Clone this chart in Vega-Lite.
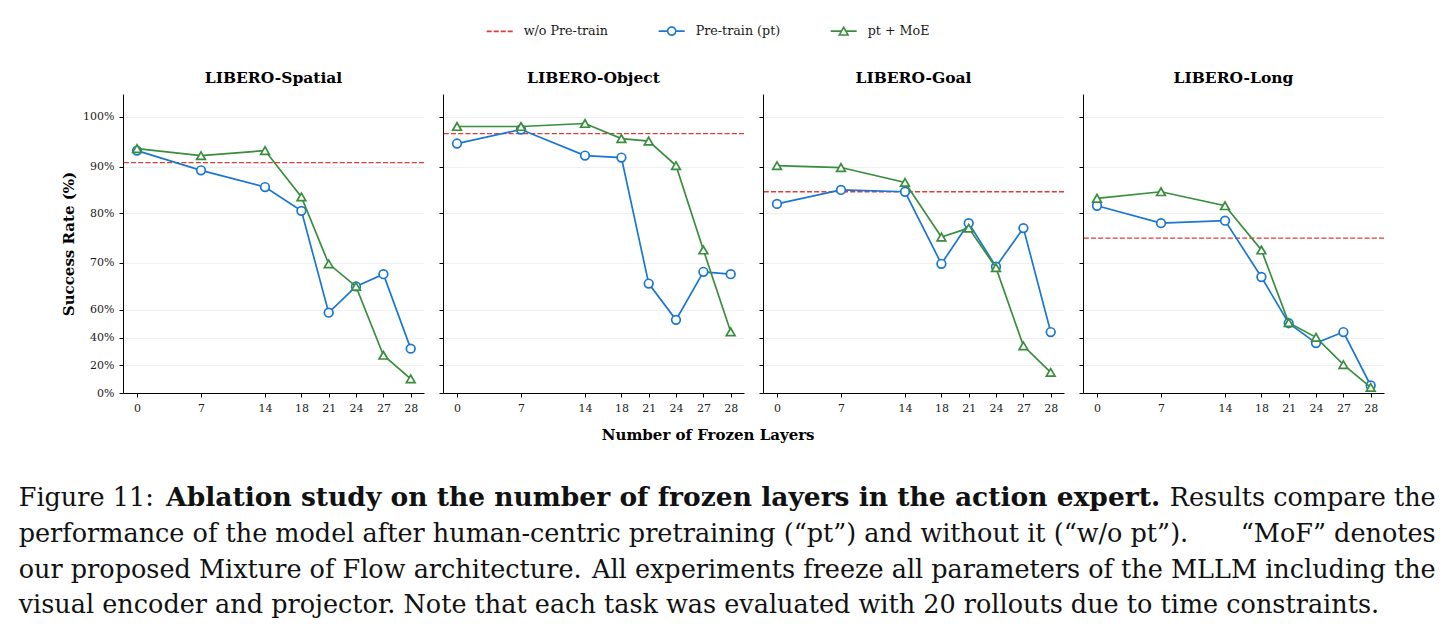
{
  "$schema": "https://vega.github.io/schema/vega-lite/v6.json",
  "background": "white",
  "padding": {"top": 16, "left": 18, "right": 9, "bottom": 8},
  "datasets": {
    "results": [
      {"task": "LIBERO-Spatial", "series": "w/o Pre-train", "rate": 90.8},
      {"task": "LIBERO-Spatial", "series": "Pre-train (pt)", "frozen": 0, "rate": 93.2},
      {"task": "LIBERO-Spatial", "series": "Pre-train (pt)", "frozen": 7, "rate": 89.2},
      {"task": "LIBERO-Spatial", "series": "Pre-train (pt)", "frozen": 14, "rate": 85.6},
      {"task": "LIBERO-Spatial", "series": "Pre-train (pt)", "frozen": 18, "rate": 80.5},
      {"task": "LIBERO-Spatial", "series": "Pre-train (pt)", "frozen": 21, "rate": 58},
      {"task": "LIBERO-Spatial", "series": "Pre-train (pt)", "frozen": 24, "rate": 65},
      {"task": "LIBERO-Spatial", "series": "Pre-train (pt)", "frozen": 27, "rate": 67.6},
      {"task": "LIBERO-Spatial", "series": "Pre-train (pt)", "frozen": 28, "rate": 32},
      {"task": "LIBERO-Spatial", "series": "pt + MoE", "frozen": 0, "rate": 93.6},
      {"task": "LIBERO-Spatial", "series": "pt + MoE", "frozen": 7, "rate": 92.2},
      {"task": "LIBERO-Spatial", "series": "pt + MoE", "frozen": 14, "rate": 93.2},
      {"task": "LIBERO-Spatial", "series": "pt + MoE", "frozen": 18, "rate": 83.5},
      {"task": "LIBERO-Spatial", "series": "pt + MoE", "frozen": 21, "rate": 69.8},
      {"task": "LIBERO-Spatial", "series": "pt + MoE", "frozen": 24, "rate": 65},
      {"task": "LIBERO-Spatial", "series": "pt + MoE", "frozen": 27, "rate": 27.2},
      {"task": "LIBERO-Spatial", "series": "pt + MoE", "frozen": 28, "rate": 10.2},
      {"task": "LIBERO-Object", "series": "w/o Pre-train", "rate": 96.6},
      {"task": "LIBERO-Object", "series": "Pre-train (pt)", "frozen": 0, "rate": 94.6},
      {"task": "LIBERO-Object", "series": "Pre-train (pt)", "frozen": 7, "rate": 97.4},
      {"task": "LIBERO-Object", "series": "Pre-train (pt)", "frozen": 14, "rate": 92.2},
      {"task": "LIBERO-Object", "series": "Pre-train (pt)", "frozen": 18, "rate": 91.8},
      {"task": "LIBERO-Object", "series": "Pre-train (pt)", "frozen": 21, "rate": 65.6},
      {"task": "LIBERO-Object", "series": "Pre-train (pt)", "frozen": 24, "rate": 52.8},
      {"task": "LIBERO-Object", "series": "Pre-train (pt)", "frozen": 27, "rate": 68.1},
      {"task": "LIBERO-Object", "series": "Pre-train (pt)", "frozen": 28, "rate": 67.6},
      {"task": "LIBERO-Object", "series": "pt + MoE", "frozen": 0, "rate": 98},
      {"task": "LIBERO-Object", "series": "pt + MoE", "frozen": 7, "rate": 98},
      {"task": "LIBERO-Object", "series": "pt + MoE", "frozen": 14, "rate": 98.6},
      {"task": "LIBERO-Object", "series": "pt + MoE", "frozen": 18, "rate": 95.6},
      {"task": "LIBERO-Object", "series": "pt + MoE", "frozen": 21, "rate": 95.1},
      {"task": "LIBERO-Object", "series": "pt + MoE", "frozen": 24, "rate": 90.2},
      {"task": "LIBERO-Object", "series": "pt + MoE", "frozen": 27, "rate": 72.6},
      {"task": "LIBERO-Object", "series": "pt + MoE", "frozen": 28, "rate": 44.2},
      {"task": "LIBERO-Goal", "series": "w/o Pre-train", "rate": 84.6},
      {"task": "LIBERO-Goal", "series": "Pre-train (pt)", "frozen": 0, "rate": 82},
      {"task": "LIBERO-Goal", "series": "Pre-train (pt)", "frozen": 7, "rate": 85},
      {"task": "LIBERO-Goal", "series": "Pre-train (pt)", "frozen": 14, "rate": 84.6},
      {"task": "LIBERO-Goal", "series": "Pre-train (pt)", "frozen": 18, "rate": 69.8},
      {"task": "LIBERO-Goal", "series": "Pre-train (pt)", "frozen": 21, "rate": 78},
      {"task": "LIBERO-Goal", "series": "Pre-train (pt)", "frozen": 24, "rate": 69.2},
      {"task": "LIBERO-Goal", "series": "Pre-train (pt)", "frozen": 27, "rate": 77},
      {"task": "LIBERO-Goal", "series": "Pre-train (pt)", "frozen": 28, "rate": 44},
      {"task": "LIBERO-Goal", "series": "pt + MoE", "frozen": 0, "rate": 90.2},
      {"task": "LIBERO-Goal", "series": "pt + MoE", "frozen": 7, "rate": 89.8},
      {"task": "LIBERO-Goal", "series": "pt + MoE", "frozen": 14, "rate": 86.6},
      {"task": "LIBERO-Goal", "series": "pt + MoE", "frozen": 18, "rate": 75.2},
      {"task": "LIBERO-Goal", "series": "pt + MoE", "frozen": 21, "rate": 77},
      {"task": "LIBERO-Goal", "series": "pt + MoE", "frozen": 24, "rate": 69},
      {"task": "LIBERO-Goal", "series": "pt + MoE", "frozen": 27, "rate": 34},
      {"task": "LIBERO-Goal", "series": "pt + MoE", "frozen": 28, "rate": 14.8},
      {"task": "LIBERO-Long", "series": "w/o Pre-train", "rate": 75},
      {"task": "LIBERO-Long", "series": "Pre-train (pt)", "frozen": 0, "rate": 81.6},
      {"task": "LIBERO-Long", "series": "Pre-train (pt)", "frozen": 7, "rate": 78},
      {"task": "LIBERO-Long", "series": "Pre-train (pt)", "frozen": 14, "rate": 78.5},
      {"task": "LIBERO-Long", "series": "Pre-train (pt)", "frozen": 18, "rate": 67},
      {"task": "LIBERO-Long", "series": "Pre-train (pt)", "frozen": 21, "rate": 50.4},
      {"task": "LIBERO-Long", "series": "Pre-train (pt)", "frozen": 24, "rate": 36},
      {"task": "LIBERO-Long", "series": "Pre-train (pt)", "frozen": 27, "rate": 44},
      {"task": "LIBERO-Long", "series": "Pre-train (pt)", "frozen": 28, "rate": 5.4},
      {"task": "LIBERO-Long", "series": "pt + MoE", "frozen": 0, "rate": 83.2},
      {"task": "LIBERO-Long", "series": "pt + MoE", "frozen": 7, "rate": 84.6},
      {"task": "LIBERO-Long", "series": "pt + MoE", "frozen": 14, "rate": 81.6},
      {"task": "LIBERO-Long", "series": "pt + MoE", "frozen": 18, "rate": 72.6},
      {"task": "LIBERO-Long", "series": "pt + MoE", "frozen": 21, "rate": 50.8},
      {"task": "LIBERO-Long", "series": "pt + MoE", "frozen": 24, "rate": 40.2},
      {"task": "LIBERO-Long", "series": "pt + MoE", "frozen": 27, "rate": 20.4},
      {"task": "LIBERO-Long", "series": "pt + MoE", "frozen": 28, "rate": 4}
    ],
    "caption": [
      {"line": 1, "part": "start", "text": "Figure 11:"},
      {"line": 1, "part": "emph", "text": "Ablation study on the number of frozen layers in the action expert."},
      {"line": 1, "part": "end", "text": "Results compare the"},
      {"line": 2, "part": "start", "text": "performance of the model after human-centric pretraining (“pt”) and without it (“w/o pt”)."},
      {"line": 2, "part": "end", "text": "“MoF” denotes"},
      {"line": 3, "part": "start", "text": "our proposed Mixture of Flow architecture."},
      {"line": 3, "part": "end", "text": "All experiments freeze all parameters of the MLLM including the"},
      {"line": 4, "part": "start", "text": "visual encoder and projector. Note that each task was evaluated with 20 rollouts due to time constraints."}
    ]
  },
  "vconcat": [
    {
      "bounds": "flush",
      "spacing": 19,
      "resolve": {"scale": {"color": "shared"}, "legend": {"color": "shared"}},
      "hconcat": [
        {
          "width": 301, "height": 299,
          "title": "LIBERO-Spatial",
          "data": {"name": "results"},
          "transform": [{"filter": "datum.task === 'LIBERO-Spatial'"}],
          "encoding": {
            "y": {"field": "rate", "type": "quantitative",
              "scale": {"domain": [0, 20, 40, 60, 70, 80, 90, 100, 104.6], "range": [299, 271.2, 243.6, 215.9, 168.9, 119.2, 72.6, 22.5, 0], "nice": false, "zero": false},
              "axis": {"values": [0, 20, 40, 60, 70, 80, 90, 100], "labelExpr": "datum.value + '%'", "grid": true, "title": "Success Rate (%)", "tickSize": 4, "labelPadding": 5, "titlePadding": 6}},
            "color": {"field": "series", "type": "nominal",
              "scale": {"domain": ["w/o Pre-train", "Pre-train (pt)", "pt + MoE"], "range": ["#e53935", "#1976d2", "#388e3c"]},
              "legend": {
                "title": null, "orient": "none", "legendX": 362.7, "legendY": -77.3, "direction": "horizontal",
                "labelFont": "DejaVu Serif", "labelFontSize": 12.7, "labelColor": "#1a1a1a",
                "labelOffset": 10, "columnPadding": 46, "padding": 0, "symbolSize": 676, "symbolStrokeWidth": 1.6,
                "encode": {"symbols": {"update": {
                  "shape": {"signal": "datum.value === 'w/o Pre-train' ? 'M-1,0H-0.62M-0.46,0H-0.08M0.08,0H0.46M0.62,0H1' : (datum.value === 'Pre-train (pt)' ? 'M-1,0H-0.31M0.31,0H1M0.31,0A0.31,0.31,0,1,1,-0.31,0A0.31,0.31,0,1,1,0.31,0' : 'M-1,0H-0.17M0.17,0H1M0,-0.3L-0.34,0.3L0.34,0.3Z')"},
                  "fill": {"value": "transparent"},
                  "stroke": {"signal": "datum.value === 'w/o Pre-train' ? '#e53935' : (datum.value === 'Pre-train (pt)' ? '#1976d2' : '#388e3c')"},
                  "strokeWidth": {"value": 1.6},
                  "strokeDash": {"value": [1, 0]},
                  "opacity": {"value": 1}
                }}}
              }}
          },
          "layer": [
            {"transform": [{"filter": "datum.series === 'w/o Pre-train'"}], "mark": {"type": "rule", "strokeDash": [5, 2.2], "strokeWidth": 1.3}, "encoding": {}},
            {"transform": [{"filter": "datum.series === 'Pre-train (pt)'"}], "mark": {"type": "line", "strokeWidth": 1.7},
              "encoding": {"x": {"field": "frozen", "type": "quantitative", "scale": {"domain": [-1.54, 0, 7, 14, 18, 21, 24, 27, 28, 29.49], "range": [0, 14, 78, 142, 178.4, 205.7, 233, 260.4, 287.7, 301], "nice": false, "zero": false}, "axis": {"values": [0, 7, 14, 18, 21, 24, 27, 28], "format": "d", "grid": false, "title": null, "tickSize": 4, "labelPadding": 5}}}},
            {"transform": [{"filter": "datum.series === 'Pre-train (pt)'"}], "mark": {"type": "point", "shape": "circle", "filled": false, "fill": "white", "size": 75, "strokeWidth": 1.7, "opacity": 1},
              "encoding": {"x": {"field": "frozen", "type": "quantitative"}}},
            {"transform": [{"filter": "datum.series === 'pt + MoE'"}], "mark": {"type": "line", "strokeWidth": 1.7},
              "encoding": {"x": {"field": "frozen", "type": "quantitative"}}},
            {"transform": [{"filter": "datum.series === 'pt + MoE'"}], "mark": {"type": "point", "shape": "triangle-up", "filled": false, "fill": "white", "size": 75, "strokeWidth": 1.7, "opacity": 1},
              "encoding": {"x": {"field": "frozen", "type": "quantitative"}}}
          ]
        },
        {
          "width": 301, "height": 299,
          "title": "LIBERO-Object",
          "data": {"name": "results"},
          "transform": [{"filter": "datum.task === 'LIBERO-Object'"}],
          "encoding": {
            "y": {"field": "rate", "type": "quantitative",
              "scale": {"domain": [0, 20, 40, 60, 70, 80, 90, 100, 104.6], "range": [299, 271.2, 243.6, 215.9, 168.9, 119.2, 72.6, 22.5, 0], "nice": false, "zero": false},
              "axis": {"values": [0, 20, 40, 60, 70, 80, 90, 100], "labels": false, "grid": true, "title": null, "tickSize": 4}},
            "color": {"field": "series", "type": "nominal",
              "scale": {"domain": ["w/o Pre-train", "Pre-train (pt)", "pt + MoE"], "range": ["#e53935", "#1976d2", "#388e3c"]}}
          },
          "layer": [
            {"transform": [{"filter": "datum.series === 'w/o Pre-train'"}], "mark": {"type": "rule", "strokeDash": [5, 2.2], "strokeWidth": 1.3}, "encoding": {}},
            {"transform": [{"filter": "datum.series === 'Pre-train (pt)'"}], "mark": {"type": "line", "strokeWidth": 1.7},
              "encoding": {"x": {"field": "frozen", "type": "quantitative", "scale": {"domain": [-1.54, 0, 7, 14, 18, 21, 24, 27, 28, 29.49], "range": [0, 14, 78, 142, 178.4, 205.7, 233, 260.4, 287.7, 301], "nice": false, "zero": false}, "axis": {"values": [0, 7, 14, 18, 21, 24, 27, 28], "format": "d", "grid": false, "title": "Number of Frozen Layers", "titleX": 264.7, "titleY": 46, "titleAlign": "center", "titleBaseline": "alphabetic", "tickSize": 4, "labelPadding": 5}}}},
            {"transform": [{"filter": "datum.series === 'Pre-train (pt)'"}], "mark": {"type": "point", "shape": "circle", "filled": false, "fill": "white", "size": 75, "strokeWidth": 1.7, "opacity": 1},
              "encoding": {"x": {"field": "frozen", "type": "quantitative"}}},
            {"transform": [{"filter": "datum.series === 'pt + MoE'"}], "mark": {"type": "line", "strokeWidth": 1.7},
              "encoding": {"x": {"field": "frozen", "type": "quantitative"}}},
            {"transform": [{"filter": "datum.series === 'pt + MoE'"}], "mark": {"type": "point", "shape": "triangle-up", "filled": false, "fill": "white", "size": 75, "strokeWidth": 1.7, "opacity": 1},
              "encoding": {"x": {"field": "frozen", "type": "quantitative"}}}
          ]
        },
        {
          "width": 301, "height": 299,
          "title": "LIBERO-Goal",
          "data": {"name": "results"},
          "transform": [{"filter": "datum.task === 'LIBERO-Goal'"}],
          "encoding": {
            "y": {"field": "rate", "type": "quantitative",
              "scale": {"domain": [0, 20, 40, 60, 70, 80, 90, 100, 104.6], "range": [299, 271.2, 243.6, 215.9, 168.9, 119.2, 72.6, 22.5, 0], "nice": false, "zero": false},
              "axis": {"values": [0, 20, 40, 60, 70, 80, 90, 100], "labels": false, "grid": true, "title": null, "tickSize": 4}},
            "color": {"field": "series", "type": "nominal",
              "scale": {"domain": ["w/o Pre-train", "Pre-train (pt)", "pt + MoE"], "range": ["#e53935", "#1976d2", "#388e3c"]}}
          },
          "layer": [
            {"transform": [{"filter": "datum.series === 'w/o Pre-train'"}], "mark": {"type": "rule", "strokeDash": [5, 2.2], "strokeWidth": 1.3}, "encoding": {}},
            {"transform": [{"filter": "datum.series === 'Pre-train (pt)'"}], "mark": {"type": "line", "strokeWidth": 1.7},
              "encoding": {"x": {"field": "frozen", "type": "quantitative", "scale": {"domain": [-1.54, 0, 7, 14, 18, 21, 24, 27, 28, 29.49], "range": [0, 14, 78, 142, 178.4, 205.7, 233, 260.4, 287.7, 301], "nice": false, "zero": false}, "axis": {"values": [0, 7, 14, 18, 21, 24, 27, 28], "format": "d", "grid": false, "title": null, "tickSize": 4, "labelPadding": 5}}}},
            {"transform": [{"filter": "datum.series === 'Pre-train (pt)'"}], "mark": {"type": "point", "shape": "circle", "filled": false, "fill": "white", "size": 75, "strokeWidth": 1.7, "opacity": 1},
              "encoding": {"x": {"field": "frozen", "type": "quantitative"}}},
            {"transform": [{"filter": "datum.series === 'pt + MoE'"}], "mark": {"type": "line", "strokeWidth": 1.7},
              "encoding": {"x": {"field": "frozen", "type": "quantitative"}}},
            {"transform": [{"filter": "datum.series === 'pt + MoE'"}], "mark": {"type": "point", "shape": "triangle-up", "filled": false, "fill": "white", "size": 75, "strokeWidth": 1.7, "opacity": 1},
              "encoding": {"x": {"field": "frozen", "type": "quantitative"}}}
          ]
        },
        {
          "width": 301, "height": 299,
          "title": "LIBERO-Long",
          "data": {"name": "results"},
          "transform": [{"filter": "datum.task === 'LIBERO-Long'"}],
          "encoding": {
            "y": {"field": "rate", "type": "quantitative",
              "scale": {"domain": [0, 20, 40, 60, 70, 80, 90, 100, 104.6], "range": [299, 271.2, 243.6, 215.9, 168.9, 119.2, 72.6, 22.5, 0], "nice": false, "zero": false},
              "axis": {"values": [0, 20, 40, 60, 70, 80, 90, 100], "labels": false, "grid": true, "title": null, "tickSize": 4}},
            "color": {"field": "series", "type": "nominal",
              "scale": {"domain": ["w/o Pre-train", "Pre-train (pt)", "pt + MoE"], "range": ["#e53935", "#1976d2", "#388e3c"]}}
          },
          "layer": [
            {"transform": [{"filter": "datum.series === 'w/o Pre-train'"}], "mark": {"type": "rule", "strokeDash": [5, 2.2], "strokeWidth": 1.3}, "encoding": {}},
            {"transform": [{"filter": "datum.series === 'Pre-train (pt)'"}], "mark": {"type": "line", "strokeWidth": 1.7},
              "encoding": {"x": {"field": "frozen", "type": "quantitative", "scale": {"domain": [-1.54, 0, 7, 14, 18, 21, 24, 27, 28, 29.49], "range": [0, 14, 78, 142, 178.4, 205.7, 233, 260.4, 287.7, 301], "nice": false, "zero": false}, "axis": {"values": [0, 7, 14, 18, 21, 24, 27, 28], "format": "d", "grid": false, "title": null, "tickSize": 4, "labelPadding": 5}}}},
            {"transform": [{"filter": "datum.series === 'Pre-train (pt)'"}], "mark": {"type": "point", "shape": "circle", "filled": false, "fill": "white", "size": 75, "strokeWidth": 1.7, "opacity": 1},
              "encoding": {"x": {"field": "frozen", "type": "quantitative"}}},
            {"transform": [{"filter": "datum.series === 'pt + MoE'"}], "mark": {"type": "line", "strokeWidth": 1.7},
              "encoding": {"x": {"field": "frozen", "type": "quantitative"}}},
            {"transform": [{"filter": "datum.series === 'pt + MoE'"}], "mark": {"type": "point", "shape": "triangle-up", "filled": false, "fill": "white", "size": 75, "strokeWidth": 1.7, "opacity": 1},
              "encoding": {"x": {"field": "frozen", "type": "quantitative"}}}
          ]
        }
      ]
    },
    {
      "width": 1417, "height": 143,
      "data": {"name": "caption"},
      "encoding": {
        "y": {"field": "line", "type": "quantitative", "scale": {"domain": [1, 4], "range": [33, 140.4], "nice": false, "zero": false}, "axis": null}
      },
      "layer": [
        {"transform": [{"filter": "datum.part === 'start'"}],
          "mark": {"type": "text", "align": "left", "baseline": "alphabetic", "font": "DejaVu Serif", "fontSize": 25.5, "color": "#111"},
          "encoding": {"x": {"datum": 0, "type": "quantitative", "scale": {"domain": [0, 1], "range": [-104.3, 1312.7], "nice": false, "zero": false}, "axis": null}, "text": {"field": "text"}}},
        {"transform": [{"filter": "datum.part === 'end'"}],
          "mark": {"type": "text", "align": "right", "baseline": "alphabetic", "font": "DejaVu Serif", "fontSize": 25.5, "color": "#111"},
          "encoding": {"x": {"datum": 1, "type": "quantitative"}, "text": {"field": "text"}}},
        {"transform": [{"filter": "datum.part === 'emph'"}],
          "mark": {"type": "text", "align": "center", "baseline": "alphabetic", "font": "DejaVu Serif", "fontWeight": "bold", "fontSize": 26.5, "color": "#111"},
          "encoding": {"x": {"datum": 0.4548, "type": "quantitative"}, "text": {"field": "text"}}}
      ]
    }
  ],
  "spacing": 379,
  "bounds": "flush",
  "resolve": {"scale": {"color": "shared"}, "legend": {"color": "shared"}},
  "config": {
    "view": {"stroke": null},
    "font": "DejaVu Serif",
    "axis": {"domainColor": "#000", "domainWidth": 1, "tickColor": "#000", "tickWidth": 1, "labelFont": "DejaVu Serif", "labelFontSize": 11, "labelColor": "#1a1a1a", "titleFont": "DejaVu Serif", "titleFontSize": 15, "titleFontWeight": "bold", "titleColor": "#000", "gridColor": "#ebebeb", "gridWidth": 0.8},
    "title": {"font": "DejaVu Serif", "fontSize": 15.5, "fontWeight": "bold", "color": "#000", "offset": 8, "baseline": "alphabetic", "frame": "group", "anchor": "middle"}
  }
}
